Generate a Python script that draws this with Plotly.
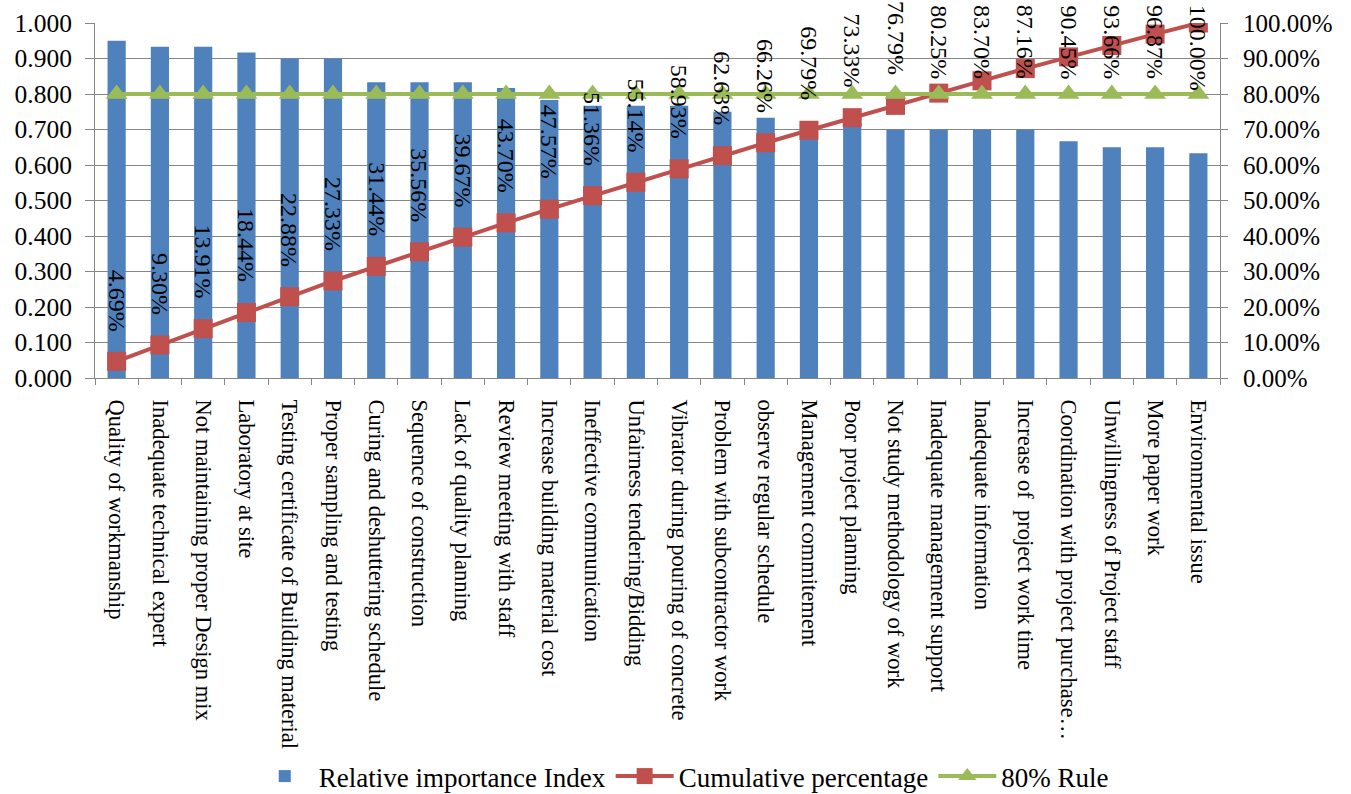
import plotly.graph_objects as go

categories = [
    "Quality of workmanship", "Inadequate technical expert", "Not maintaining proper Design mix",
    "Laboratory at site", "Testing certificate of Building material", "Proper sampling and testing",
    "Curing and deshuttering schedule", "Sequence of construction", "Lack of quality planning",
    "Review meeting with staff", "Increase building material cost", "Ineffective communication",
    "Unfairness tendering/Bidding", "Vibrator during pouring of concrete", "Problem with subcontractor work",
    "observe regular schedule", "Management commitement", "Poor project planning",
    "Not study methodology of work", "Inadequate management support", "Inadequate information",
    "Increase of  project work time", "Coordination with project purchase\u2026", "Unwillingness of Project staff",
    "More paper work", "Environmental issue",
]
rii = [0.950, 0.933, 0.933, 0.917, 0.900, 0.900, 0.833, 0.833, 0.833, 0.817, 0.783, 0.767, 0.767,
       0.767, 0.750, 0.733, 0.717, 0.717, 0.700, 0.700, 0.700, 0.700, 0.667, 0.650, 0.650, 0.633]
cumulative = [4.69, 9.30, 13.91, 18.44, 22.88, 27.33, 31.44, 35.56, 39.67, 43.70, 47.57, 51.36, 55.14,
              58.93, 62.63, 66.26, 69.79, 73.33, 76.79, 80.25, 83.70, 87.16, 90.45, 93.66, 96.87, 100.00]
rule80 = [80.0] * len(categories)
left_ticks = [0.0, 0.1, 0.2, 0.3, 0.4, 0.5, 0.6, 0.7, 0.8, 0.9, 1.0]

FONT = "Liberation Serif, Times New Roman, serif"
BLUE, RED, GREEN = "#4F81BD", "#C0504D", "#9BBB59"
GRID = "#868686"

W, H = 1351, 794
M_L, M_R, M_T, M_B = 95, 131, 23, 416
plot_h = H - M_T - M_B

fig = go.Figure()
fig.add_trace(go.Bar(x=categories, y=rii, name="Relative importance Index",
                     marker=dict(color=BLUE, line=dict(width=0)), width=0.42))
fig.add_trace(go.Scatter(x=categories, y=[c / 100 for c in cumulative], name="Cumulative percentage",
                         yaxis="y2", mode="lines+markers",
                         line=dict(color=RED, width=4),
                         marker=dict(symbol="square", size=19, color=RED)))
fig.add_trace(go.Scatter(x=categories, y=[r / 100 for r in rule80], name="80% Rule",
                         yaxis="y2", mode="lines+markers",
                         line=dict(color=GREEN, width=4),
                         marker=dict(symbol="triangle-up", size=19, color=GREEN)))

LABEL_SIZE = 24
annotations = []
for cat, c in zip(categories, cumulative):
    txt = f"{c:.2f}%"
    em = sum(0.5 if ch.isdigit() else (0.25 if ch == "." else 0.833) for ch in txt)
    length = em * LABEL_SIZE
    marker_px = M_T + (1 - c / 100) * plot_h
    gap = 28
    if marker_px - gap - length < 3:
        annotations.append(dict(x=cat, y=1, xref="x", yref="paper", text=txt, showarrow=False,
                                textangle=90, xanchor="center", yanchor="top", yshift=M_T - 3,
                                font=dict(family=FONT, size=LABEL_SIZE, color="black")))
    else:
        annotations.append(dict(x=cat, y=c / 100, xref="x", yref="y2", text=txt, showarrow=False,
                                textangle=90, xanchor="center", yanchor="bottom", yshift=gap,
                                font=dict(family=FONT, size=LABEL_SIZE, color="black")))

fig.update_layout(
    width=W, height=H,
    margin=dict(l=M_L, r=M_R, t=M_T, b=M_B, autoexpand=False),
    paper_bgcolor="white", plot_bgcolor="white",
    font=dict(family=FONT, size=25, color="black"),
    bargap=0.58,
    showlegend=True,
    legend=dict(orientation="h", xref="container", x=0.505, xanchor="center",
                yref="container", y=0.022, yanchor="middle",
                font=dict(family=FONT, size=27, color="black"),
                itemwidth=58, tracegroupgap=0, bgcolor="rgba(0,0,0,0)"),
    xaxis=dict(type="category", tickangle=90, tickson="boundaries", ticks="outside", ticklen=6,
               tickcolor=GRID, showline=True, linecolor=GRID, linewidth=1, showgrid=False,
               tickfont=dict(family=FONT, size=22.5, color="black"), ticklabelstandoff=16,
               range=[-0.5, len(categories) - 0.5]),
    yaxis=dict(range=[0, 1], tickvals=left_ticks, ticktext=[f"{v:.3f}" for v in left_ticks],
               showgrid=True, gridcolor=GRID, gridwidth=1, zeroline=False,
               showline=True, linecolor=GRID, linewidth=1, ticks="outside", ticklen=9, tickcolor=GRID,
               tickfont=dict(family=FONT, size=25.5, color="black"), ticklabelstandoff=8),
    yaxis2=dict(range=[0, 1], overlaying="y", side="right", tickvals=left_ticks,
                ticktext=[f"{v * 100:.2f}%" for v in left_ticks], showgrid=False, zeroline=False,
                showline=True, linecolor=GRID, linewidth=1, ticks="outside", ticklen=7, tickcolor=GRID,
                tickfont=dict(family=FONT, size=25, color="black"), ticklabelstandoff=10),
    annotations=annotations,
)

fig.write_html("out.html")
